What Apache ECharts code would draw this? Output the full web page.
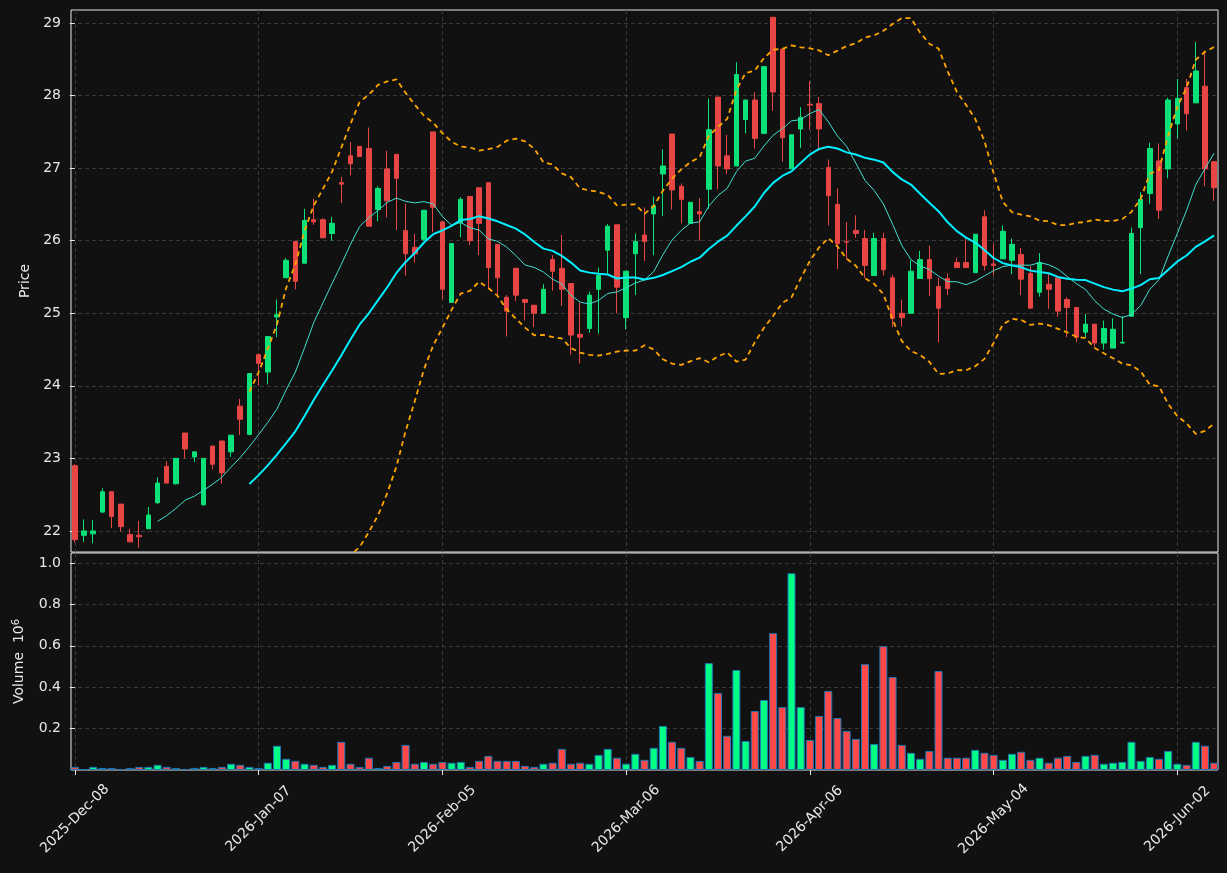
<!DOCTYPE html>
<html>
<head>
<meta charset="utf-8">
<script src="https://cdn.jsdelivr.net/npm/echarts@6/dist/echarts.min.js"></script>
<style>
html, body { margin: 0; background: #111111; }
#main { width: 1227px; height: 873px; }
</style>
</head>
<body>
<div id="main"></div>
<script>
// daily OHLC, 125 trading days starting 2025-Dec-08
var opens = [22.90, 21.94, 21.96, 22.26, 22.54, 22.37, 21.95, 21.94, 22.03, 22.39,
    22.89, 22.65, 23.35, 23.02, 22.36, 23.17, 23.24, 23.09, 23.72, 23.33,
    24.43, 24.19, 24.95, 25.49, 25.99, 25.69, 26.29, 26.29, 26.10, 26.80,
    27.17, 27.30, 27.27, 26.43, 26.99, 27.19, 26.14, 25.91, 26.02, 27.50,
    26.26, 25.15, 26.25, 26.61, 26.73, 26.80, 25.95, 25.22, 25.62, 25.19,
    25.11, 25.00, 25.74, 25.62, 25.41, 24.71, 24.79, 25.33, 25.87, 26.22,
    24.94, 25.82, 26.08, 26.37, 26.92, 27.47, 26.75, 26.24, 26.40, 26.71,
    27.98, 27.17, 27.03, 27.67, 27.94, 27.48, 29.08, 28.64, 26.99, 27.54,
    27.88, 27.89, 27.01, 26.50, 25.99, 26.14, 26.03, 25.52, 26.03, 25.49,
    25.00, 25.00, 25.48, 25.74, 25.37, 25.48, 25.70, 25.70, 25.56, 26.33,
    25.68, 25.75, 25.73, 25.81, 25.55, 25.29, 25.40, 25.49, 25.19, 25.08,
    24.74, 24.85, 24.59, 24.52, 24.59, 24.96, 26.18, 26.65, 27.10, 26.99,
    27.61, 28.11, 27.90, 28.13, 27.09];
var closes = [21.88, 22.00, 22.00, 22.54, 22.20, 22.06, 21.85, 21.92, 22.22, 22.66,
    22.66, 23.00, 23.13, 23.09, 23.00, 22.92, 22.80, 23.32, 23.54, 24.17,
    24.31, 24.68, 24.98, 25.73, 25.44, 26.28, 26.26, 26.04, 26.24, 26.78,
    27.06, 27.16, 26.20, 26.72, 26.55, 26.86, 25.82, 25.82, 26.42, 26.46,
    25.33, 25.96, 26.57, 26.00, 26.24, 25.63, 25.49, 25.03, 25.25, 25.15,
    25.00, 25.33, 25.58, 25.33, 24.70, 24.67, 25.25, 25.52, 26.20, 25.36,
    25.58, 25.99, 25.99, 26.48, 27.03, 26.70, 26.57, 26.53, 26.37, 27.53,
    27.03, 26.99, 28.29, 27.94, 27.41, 28.40, 28.05, 27.42, 27.46, 27.70,
    27.87, 27.54, 26.62, 25.96, 25.98, 26.10, 25.66, 26.03, 25.60, 24.93,
    24.94, 25.58, 25.74, 25.48, 25.07, 25.34, 25.63, 25.63, 26.09, 25.66,
    25.66, 26.13, 25.95, 25.47, 25.07, 25.70, 25.33, 25.03, 25.08, 24.67,
    24.85, 24.59, 24.79, 24.78, 24.60, 26.10, 26.57, 27.27, 26.42, 27.94,
    27.96, 27.75, 28.34, 26.99, 26.73];
var lows = [21.84, 21.85, 21.83, 22.25, 22.04, 21.99, 21.85, 21.77, 22.03, 22.37,
    22.66, 22.64, 23.00, 22.95, 22.35, 22.85, 22.65, 23.02, 23.32, 23.33,
    24.00, 24.02, 24.67, 25.49, 25.33, 25.69, 26.22, 26.04, 26.00, 26.52,
    26.90, 27.16, 26.20, 26.27, 26.32, 26.15, 25.52, 25.70, 26.00, 26.12,
    25.19, 25.15, 26.05, 25.94, 25.80, 25.34, 25.25, 24.68, 25.17, 24.90,
    24.81, 25.00, 25.31, 25.10, 24.43, 24.31, 24.73, 24.72, 25.55, 25.00,
    24.78, 25.25, 25.72, 25.80, 26.34, 26.43, 26.24, 26.24, 26.00, 26.44,
    26.71, 26.92, 27.03, 27.48, 27.27, 27.48, 27.79, 27.09, 26.99, 27.28,
    27.53, 27.24, 26.21, 25.61, 25.74, 26.04, 25.49, 25.52, 25.52, 24.81,
    24.82, 25.00, 25.48, 25.24, 24.60, 25.25, 25.63, 25.63, 25.56, 25.59,
    25.52, 25.75, 25.54, 25.25, 25.07, 25.23, 25.06, 24.95, 24.67, 24.60,
    24.67, 24.54, 24.50, 24.52, 24.59, 24.96, 25.54, 26.51, 26.30, 26.86,
    27.41, 27.52, 27.90, 26.75, 26.55];
var highs = [22.92, 22.16, 22.15, 22.59, 22.55, 22.37, 22.03, 22.14, 22.33, 22.74,
    22.96, 23.00, 23.35, 23.09, 23.00, 23.17, 23.24, 23.32, 23.82, 24.17,
    24.43, 24.68, 25.19, 25.76, 25.99, 26.44, 26.58, 26.31, 26.33, 26.88,
    27.36, 27.30, 27.56, 26.75, 27.24, 27.19, 26.51, 26.09, 26.42, 27.50,
    26.26, 25.96, 26.60, 26.61, 26.73, 26.80, 25.95, 25.25, 25.62, 25.19,
    25.11, 25.40, 25.80, 26.08, 25.41, 25.15, 25.30, 25.63, 26.23, 26.22,
    25.58, 26.10, 26.46, 26.61, 27.26, 27.47, 26.79, 26.53, 26.59, 27.96,
    27.98, 27.46, 28.46, 27.94, 28.05, 28.40, 29.08, 28.64, 27.46, 27.84,
    28.20, 27.98, 27.12, 26.72, 26.26, 26.35, 26.15, 26.11, 26.11, 25.53,
    25.19, 25.73, 25.86, 25.93, 25.49, 25.55, 25.77, 26.03, 26.09, 26.42,
    25.96, 26.21, 26.03, 25.90, 25.65, 25.83, 25.55, 25.49, 25.22, 25.08,
    24.99, 24.85, 24.90, 24.93, 24.96, 26.18, 26.67, 27.35, 27.34, 27.97,
    28.23, 28.23, 28.74, 28.62, 27.09];
// volume in millions
var volumes = [0.015, 0.004, 0.015, 0.010, 0.010, 0.004, 0.010, 0.015, 0.015, 0.025,
    0.015, 0.010, 0.005, 0.010, 0.015, 0.010, 0.015, 0.030, 0.025, 0.015,
    0.010, 0.035, 0.117, 0.054, 0.044, 0.030, 0.025, 0.015, 0.025, 0.136,
    0.030, 0.015, 0.059, 0.010, 0.020, 0.039, 0.121, 0.030, 0.039, 0.030,
    0.039, 0.035, 0.039, 0.015, 0.044, 0.068, 0.044, 0.044, 0.044, 0.020,
    0.015, 0.030, 0.035, 0.102, 0.030, 0.035, 0.030, 0.073, 0.102, 0.059,
    0.030, 0.078, 0.049, 0.107, 0.213, 0.136, 0.107, 0.063, 0.044, 0.516,
    0.372, 0.165, 0.483, 0.140, 0.285, 0.338, 0.661, 0.304, 0.950, 0.304,
    0.145, 0.261, 0.382, 0.251, 0.189, 0.150, 0.511, 0.126, 0.598, 0.449,
    0.121, 0.083, 0.054, 0.092, 0.478, 0.059, 0.059, 0.059, 0.097, 0.083,
    0.073, 0.049, 0.078, 0.088, 0.049, 0.059, 0.035, 0.059, 0.068, 0.039,
    0.068, 0.073, 0.030, 0.035, 0.039, 0.136, 0.044, 0.063, 0.054, 0.092,
    0.030, 0.025, 0.136, 0.117, 0.035];

var tickIndex = [0, 20, 40, 60, 80, 100, 120];
var tickLabels = ['2025-Dec-08', '2026-Jan-07', '2026-Feb-05', '2026-Mar-06',
    '2026-Apr-06', '2026-May-04', '2026-Jun-02'];
var priceTicks = [22, 23, 24, 25, 26, 27, 28, 29];
var volumeTicks = [0.2, 0.4, 0.6, 0.8, 1.0];

var upColor = '#0be37a', downColor = '#e84545';
var volUp = '#00ff84', volDown = '#ff4848';

function movingAvg(n) {
    var out = [];
    for (var i = n - 1; i < closes.length; i++) {
        var s = 0;
        for (var j = i - n + 1; j <= i; j++) s += closes[j];
        out.push([i, s / n]);
    }
    return out;
}

// bollinger bands (20, 2) from closes
function band(n, k, side) {
    var out = [];
    for (var i = n - 1; i < closes.length; i++) {
        var s = 0, ss = 0;
        for (var j = i - n + 1; j <= i; j++) s += closes[j];
        var m = s / n;
        for (var j2 = i - n + 1; j2 <= i; j2++) ss += (closes[j2] - m) * (closes[j2] - m);
        var sd = Math.sqrt(ss / (n - 1));
        out.push([i, m + side * k * sd]);
    }
    return out;
}

var candles = [], vols = [];
for (var i = 0; i < closes.length; i++) {
    candles.push([i, opens[i], closes[i], lows[i], highs[i]]);
    vols.push({
        value: [i, volumes[i]],
        itemStyle: { color: closes[i] >= opens[i] ? volUp : volDown }
    });
}

var txt = { color: '#e8e8e8', fontSize: 14, fontFamily: 'DejaVu Sans' };
var gridLine = { show: true, lineStyle: { color: '#3a3a3a', type: [4, 3], width: 1 } };

var myChart = echarts.init(document.getElementById('main'));
var option = {
    backgroundColor: '#111111',
    animation: false,
    grid: [
        { left: 71, width: 1147, top: 10, height: 542, show: true, borderColor: '#e6e6e6', borderWidth: 1 },
        { left: 71, width: 1147, top: 553, height: 217, show: true, borderColor: '#e6e6e6', borderWidth: 1 }
    ],
    xAxis: [
        {
            type: 'value', gridIndex: 0, min: -0.42, max: 124.42,
            axisLine: { show: false },
            axisTick: { show: false, customValues: tickIndex },
            axisLabel: { show: false, customValues: tickIndex },
            splitLine: gridLine
        },
        {
            type: 'value', gridIndex: 1, min: -0.42, max: 124.42,
            axisLine: { show: false },
            axisTick: { show: true, length: 5, customValues: tickIndex, lineStyle: { color: '#e6e6e6' } },
            axisLabel: Object.assign({
                customValues: tickIndex, rotate: 45, margin: 49,
                align: 'center', verticalAlign: 'middle',
                formatter: function (v) { return tickLabels[tickIndex.indexOf(Math.round(v))] || ''; }
            }, txt),
            splitLine: gridLine
        }
    ],
    yAxis: [
        {
            type: 'value', gridIndex: 0, min: 21.71, max: 29.18,
            name: 'Price', nameLocation: 'middle', nameGap: 36, nameTextStyle: txt,
            axisLine: { show: false },
            axisTick: { show: true, length: 5, customValues: priceTicks, lineStyle: { color: '#e6e6e6' } },
            axisLabel: Object.assign({ customValues: priceTicks, margin: 10 }, txt),
            splitLine: gridLine
        },
        {
            type: 'value', gridIndex: 1, min: 0, max: 1.048,
            name: '{a|Volume  10}{b|6}', nameLocation: 'middle', nameGap: 44,
            nameTextStyle: Object.assign({
                rich: {
                    a: { color: '#e8e8e8', fontSize: 14, fontFamily: 'DejaVu Sans' },
                    b: { color: '#e8e8e8', fontSize: 10, fontFamily: 'DejaVu Sans', verticalAlign: 'top', padding: [0, 0, 6, 0] }
                }
            }, txt),
            axisLine: { show: false },
            axisTick: { show: true, length: 5, customValues: volumeTicks, lineStyle: { color: '#e6e6e6' } },
            axisLabel: Object.assign({
                customValues: volumeTicks, margin: 10,
                formatter: function (v) { return v.toFixed(1); }
            }, txt),
            splitLine: gridLine
        }
    ],
    series: [
        {
            type: 'candlestick', xAxisIndex: 0, yAxisIndex: 0,
            data: candles, barWidth: 5,
            itemStyle: { color: upColor, color0: downColor, borderColor: upColor, borderColor0: downColor, borderWidth: 1 }
        },
        {
            type: 'line', xAxisIndex: 0, yAxisIndex: 0, data: movingAvg(10),
            showSymbol: false, lineStyle: { color: '#40e0d0', width: 1 }
        },
        {
            type: 'line', xAxisIndex: 0, yAxisIndex: 0, data: movingAvg(20),
            showSymbol: false, lineStyle: { color: '#00f0ff', width: 2 }
        },
        {
            type: 'line', xAxisIndex: 0, yAxisIndex: 0, data: band(20, 2, 1),
            showSymbol: false, lineStyle: { color: '#ffa500', width: 1.8, type: [5, 4] }
        },
        {
            type: 'line', xAxisIndex: 0, yAxisIndex: 0, data: band(20, 2, -1),
            showSymbol: false, lineStyle: { color: '#ffa500', width: 1.8, type: [5, 4] }
        },
        {
            type: 'bar', xAxisIndex: 1, yAxisIndex: 1, data: vols, barWidth: 8,
            itemStyle: { borderColor: '#1f77b4', borderWidth: 1 }
        }
    ]
};
myChart.setOption(option);
</script>
</body>
</html>
